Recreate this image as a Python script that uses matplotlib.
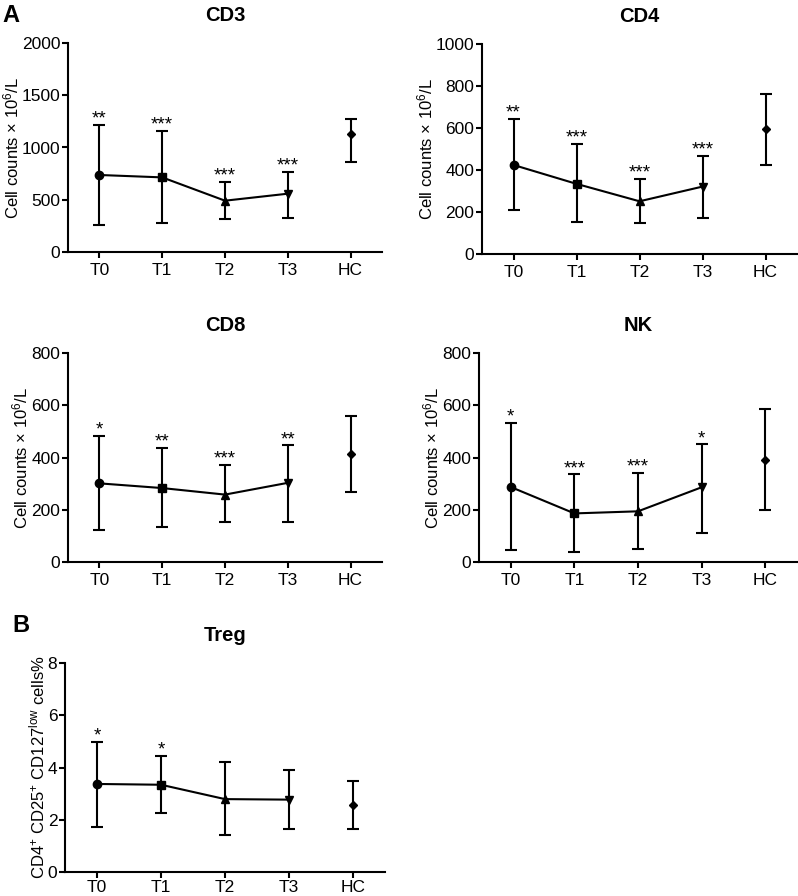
import numpy as np
import matplotlib
matplotlib.use('Agg')
import matplotlib.pyplot as plt

plt.rcParams['font.family'] = ['Liberation Sans', 'DejaVu Sans']
plt.rcParams['mathtext.fontset'] = 'custom'
plt.rcParams['mathtext.rm'] = 'Liberation Sans'
plt.rcParams['mathtext.it'] = 'Liberation Sans:italic'
plt.rcParams['mathtext.bf'] = 'Liberation Sans:bold'

groups = ['T0', 'T1', 'T2', 'T3', 'HC']
markers = ['o', 's', '^', 'v', 'D']
marker_sizes = [6, 5.5, 6, 6, 4.5]

# central value, lower and upper ends of the bars
cd3_mid = [737, 714, 491, 558, 1126]
cd3_low = [255, 277, 313, 325, 861]
cd3_high = [1212, 1161, 673, 769, 1270]
cd3_sig = ['**', '***', '***', '***', '']

cd4_mid = [424, 334, 251, 321, 593]
cd4_low = [211, 151, 146, 170, 426]
cd4_high = [645, 523, 358, 466, 760]
cd4_sig = ['**', '***', '***', '***', '']

cd8_mid = [301, 283, 258, 303, 413]
cd8_low = [121, 134, 152, 154, 268]
cd8_high = [482, 435, 370, 446, 559]
cd8_sig = ['*', '**', '***', '**', '']

nk_mid = [287, 186, 194, 286, 392]
nk_low = [46, 38, 51, 111, 199]
nk_high = [532, 335, 342, 450, 587]
nk_sig = ['*', '***', '***', '*', '']

treg_mid = [3.37, 3.34, 2.79, 2.77, 2.55]
treg_low = [1.73, 2.25, 1.42, 1.63, 1.63]
treg_high = [4.99, 4.44, 4.21, 3.91, 3.48]
treg_sig = ['*', '*', '', '', '']

W, H = 798, 896
fig = plt.figure(figsize=(W / 100, H / 100), dpi=100)


def px_axes(left, top, right, bottom):
    return fig.add_axes([left / W, 1 - bottom / H, (right - left) / W, (bottom - top) / H])


def panel(ax, title, mid, low, high, sig, ymax, step, ylabel, xpad=4):
    x = np.arange(len(groups))
    mid = np.array(mid, float)
    low = np.array(low, float)
    high = np.array(high, float)
    ax.plot(x[:4], mid[:4], color='black', lw=1.5, zorder=2)
    for i in range(len(groups)):
        ax.errorbar(x[i], mid[i], yerr=[[mid[i] - low[i]], [high[i] - mid[i]]],
                    fmt=markers[i], color='black', ms=marker_sizes[i],
                    elinewidth=1.5, capsize=4, capthick=1.5, zorder=3)
        if sig[i]:
            ax.annotate(sig[i], (x[i], high[i]), xytext=(0, 1), textcoords='offset points',
                        ha='center', va='baseline', fontsize=13.5)
    ax.set_xlim(-0.5, 4.5)
    ax.set_ylim(0, ymax)
    ax.set_yticks(np.arange(0, ymax + step / 2, step))
    ax.set_xticks(x)
    ax.set_xticklabels(groups)
    ax.spines['top'].set_visible(False)
    ax.spines['right'].set_visible(False)
    for s in ['left', 'bottom']:
        ax.spines[s].set_linewidth(1.5)
    ax.tick_params(width=1.5, length=4, labelsize=12.5)
    ax.tick_params(axis='y', pad=1.5)
    ax.tick_params(axis='x', pad=xpad)
    ax.set_title(title, fontsize=14.5, fontweight='bold', pad=16)
    ax.set_ylabel(ylabel, fontsize=12, labelpad=0.5)


cell_label = r'Cell counts × 10$^{6}$/L'

ax1 = px_axes(68, 43, 382, 252)
panel(ax1, 'CD3', cd3_mid, cd3_low, cd3_high, cd3_sig, 2000, 500, cell_label)

ax2 = px_axes(482, 44, 797, 254)
panel(ax2, 'CD4', cd4_mid, cd4_low, cd4_high, cd4_sig, 1000, 200, cell_label)

ax3 = px_axes(68, 353, 382, 562)
panel(ax3, 'CD8', cd8_mid, cd8_low, cd8_high, cd8_sig, 800, 200, cell_label)

ax4 = px_axes(479, 353, 797, 562)
panel(ax4, 'NK', nk_mid, nk_low, nk_high, nk_sig, 800, 200, cell_label)

ax5 = px_axes(65, 663, 385, 872)
panel(ax5, 'Treg', treg_mid, treg_low, treg_high, treg_sig, 8, 2,
      r'CD4$^{+}$ CD25$^{+}$ CD127$^{\mathrm{low}}$ cells%', xpad=1.5)

fig.text(2 / W, 1 - 16 / H, 'A', fontsize=17, fontweight='bold', va='center', ha='left')
fig.text(12 / W, 1 - 625 / H, 'B', fontsize=17, fontweight='bold', va='center', ha='left')

fig.savefig('out.png', dpi=100)
